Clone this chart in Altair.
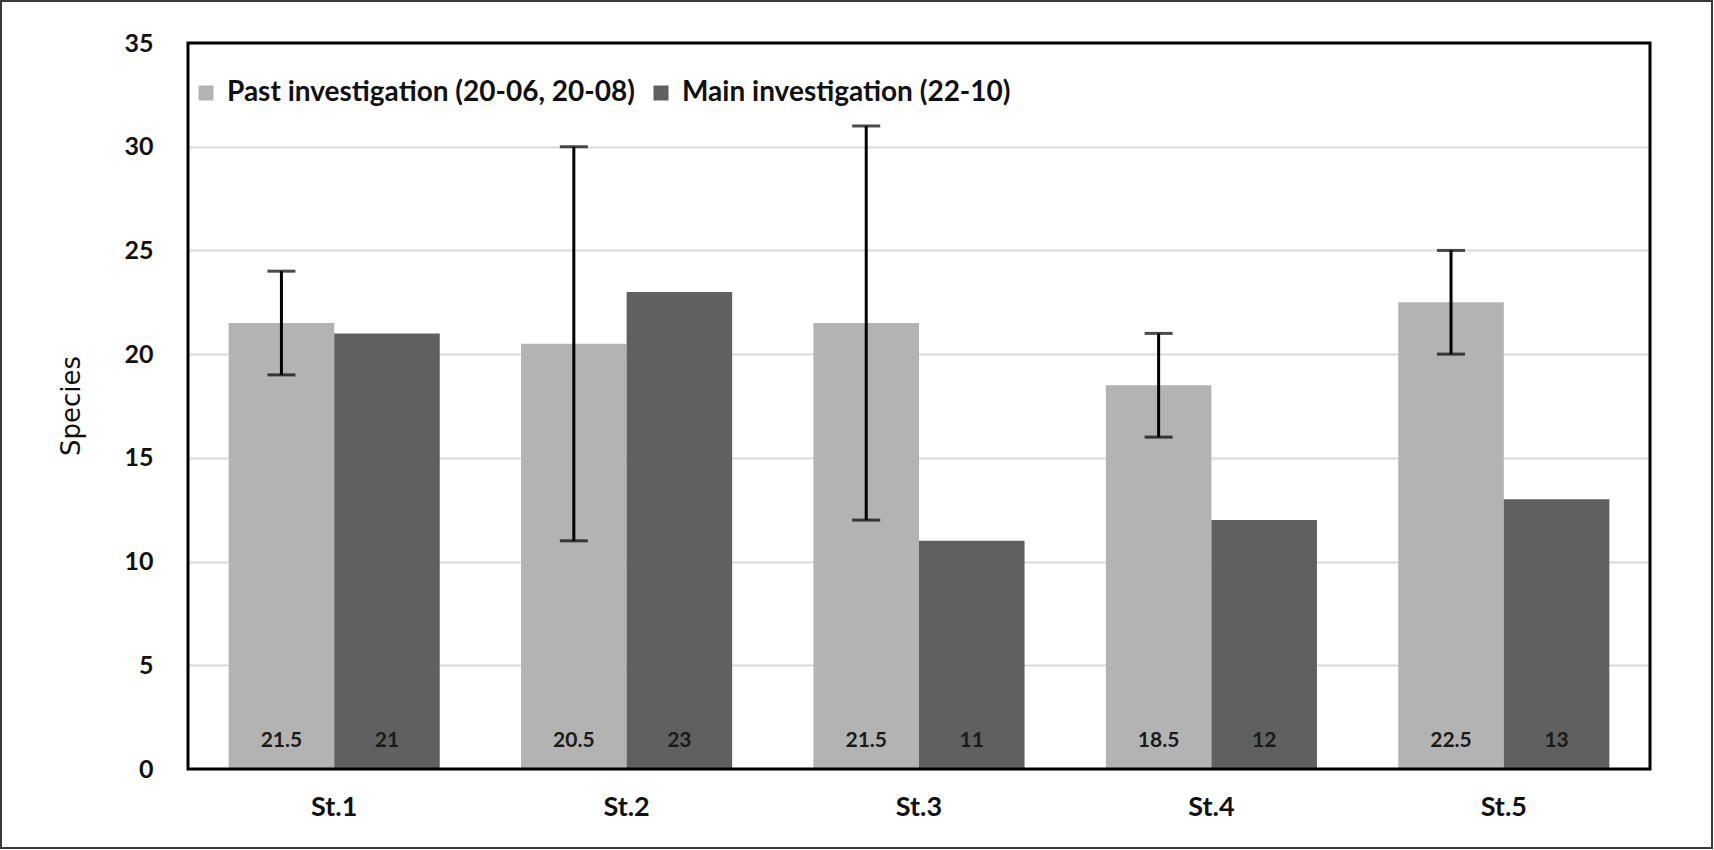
import altair as alt
import pandas as pd

stations = ["St.1", "St.2", "St.3", "St.4", "St.5"]
series_names = ["Past investigation (20-06, 20-08)", "Main investigation (22-10)"]
past_values = [21.5, 20.5, 21.5, 18.5, 22.5]
main_values = [21, 23, 11, 12, 13]
past_low = [19, 11, 12, 16, 20]
past_high = [24, 30, 31, 21, 25]
y_ticks = [0, 5, 10, 15, 20, 25, 30, 35]
y_title = ["Species"]
colors = ["#b3b3b3", "#606060"]

rows = []
for i, st in enumerate(stations):
    rows.append({"station": st, "series": series_names[0], "value": past_values[i]})
    rows.append({"station": st, "series": series_names[1], "value": main_values[i]})
bars_df = pd.DataFrame(rows)

err_df = pd.DataFrame({
    "station": stations,
    "series": [series_names[0]] * len(stations),
    "low": past_low,
    "high": past_high,
})

FONT = "Lato"
PLOT_W, PLOT_H = 1462, 726
PAD_L, PAD_T = 188, 43

x_enc = alt.X(
    "station:N",
    sort=stations,
    scale=alt.Scale(paddingInner=0.278, paddingOuter=0.139),
    axis=alt.Axis(
        title=None, labelAngle=0, ticks=False, domain=False,
        labelFont=FONT, labelFontSize=27, labelFontWeight="bold",
        labelColor="#111111", labelPadding=25,
    ),
)
xoff_enc = alt.XOffset(
    "series:N", sort=series_names,
    scale=alt.Scale(domain=series_names, paddingInner=0, paddingOuter=0),
)
y_scale = alt.Scale(domain=[0, 35], nice=False)

bars = alt.Chart(bars_df).mark_bar().encode(
    x=x_enc,
    xOffset=xoff_enc,
    y=alt.Y(
        "value:Q", scale=y_scale,
        axis=alt.Axis(
            values=y_ticks, title=None, ticks=False, domain=False,
            grid=True, gridColor="#d9d9d9", gridWidth=2,
            labelFont=FONT, labelFontSize=25, labelFontWeight="bold",
            labelColor="#111111", labelPadding=35,
        ),
    ),
    color=alt.Color(
        "series:N", sort=series_names,
        scale=alt.Scale(domain=series_names, range=colors),
        legend=alt.Legend(
            title=None, orient="none", direction="horizontal",
            legendX=4, legendY=36, padding=0,
            symbolType="square", symbolSize=225, symbolStrokeWidth=0,
            labelFont=FONT, labelFontSize=28, labelFontWeight="bold",
            labelColor="#111111", labelOffset=7, columnPadding=12,
            labelLimit=0,
        ),
    ),
)

labels = alt.Chart(bars_df).mark_text(
    font=FONT, fontSize=21, fontWeight="bold", color="#1a1a1a",
    baseline="middle", dy=-28,
).encode(
    x=alt.X("station:N", sort=stations),
    xOffset=xoff_enc,
    y=alt.datum(0),
    text=alt.Text("value:Q"),
)

err_rule = alt.Chart(err_df).mark_rule(color="black", strokeWidth=3).encode(
    x=alt.X("station:N", sort=stations),
    xOffset=xoff_enc,
    y=alt.Y("low:Q", scale=y_scale),
    y2="high:Q",
)
cap_low = alt.Chart(err_df).mark_tick(
    color="black", thickness=3, size=28, orient="horizontal"
).encode(
    x=alt.X("station:N", sort=stations),
    xOffset=xoff_enc,
    y=alt.Y("low:Q", scale=y_scale),
)
cap_high = alt.Chart(err_df).mark_tick(
    color="black", thickness=3, size=28, orient="horizontal"
).encode(
    x=alt.X("station:N", sort=stations),
    xOffset=xoff_enc,
    y=alt.Y("high:Q", scale=y_scale),
)

title_text = alt.Chart(pd.DataFrame({"t": y_title})).mark_text(
    font="DejaVu Sans", fontSize=26, color="#111111", angle=270,
    align="center", baseline="middle",
).encode(
    x=alt.value(72 - PAD_L), y=alt.value(PLOT_H / 2), text="t:N",
)

frame = alt.Chart(pd.DataFrame({"f": [0]})).mark_rect(
    filled=False, stroke="black", strokeWidth=3
).encode(
    x=alt.value(0), x2=alt.value(PLOT_W),
    y=alt.value(0), y2=alt.value(PLOT_H),
)

border = alt.Chart(pd.DataFrame({"b": [0]})).mark_rect(
    filled=False, stroke="#3a3a3a", strokeWidth=2
).encode(
    x=alt.value(1 - PAD_L), x2=alt.value(1712 - PAD_L),
    y=alt.value(1 - PAD_T), y2=alt.value(848 - PAD_T),
)

chart = alt.layer(
    bars, labels, err_rule, cap_low, cap_high, title_text, frame, border
).properties(
    width=PLOT_W, height=PLOT_H,
    autosize=alt.AutoSizeParams(type="none"),
    padding={"left": PAD_L, "top": PAD_T, "right": 1714 - PAD_L - PLOT_W, "bottom": 850 - PAD_T - PLOT_H},
    background="white",
).configure(
    font=FONT,
).configure_view(
    stroke=None,
)

chart.save("out.html", embed_options={"renderer": "svg", "actions": False})
